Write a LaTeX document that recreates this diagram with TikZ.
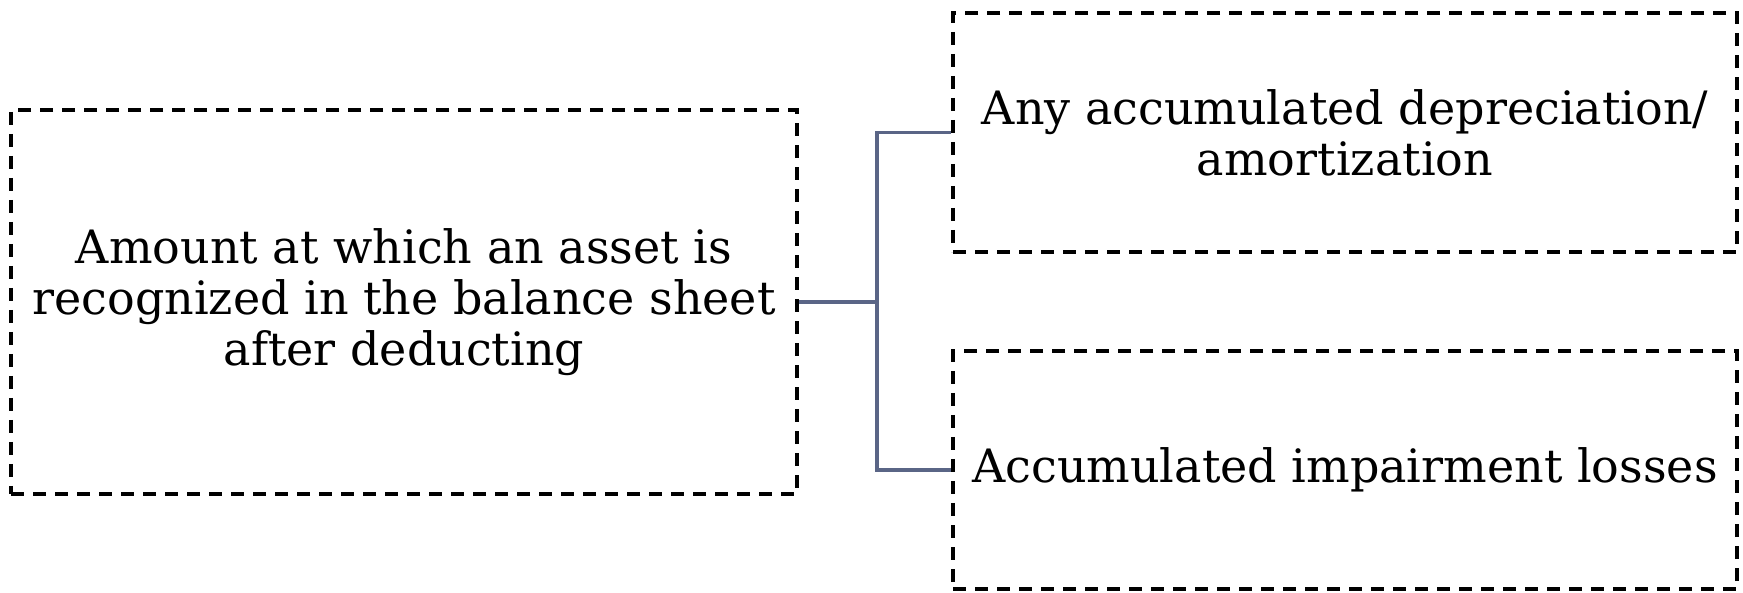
\documentclass[tikz,border=0pt]{standalone}
\usepackage{fontspec}
\setmainfont{DejaVu Serif}
\begin{document}
\begin{tikzpicture}[x=1pt,y=1pt,
  box/.style={draw=black, line width=3.5pt, dash pattern=on 13pt off 9pt, align=center, inner sep=0pt,
    font=\fontsize{46}{51}\selectfont},
  conn/.style={draw=connc, line width=3.5pt}]
\definecolor{connc}{HTML}{5A6586}
\useasboundingbox (0,0) rectangle (1743,592);
\node[box, minimum width=786pt, minimum height=384pt] (L) at (404,290) {Amount at which an asset is\\recognized in the balance sheet\\after deducting};
\node[box, minimum width=784pt, minimum height=239pt] (T) at (1345,459.5) {Any accumulated depreciation/\\amortization};
\node[box, minimum width=784pt, minimum height=238pt] (B) at (1345,122) {Accumulated impairment losses};
\draw[conn] (L.east) -- ++(78,0) coordinate (j);
\draw[conn] (T.west) -| (j) |- (B.west);
\end{tikzpicture}
\end{document}
